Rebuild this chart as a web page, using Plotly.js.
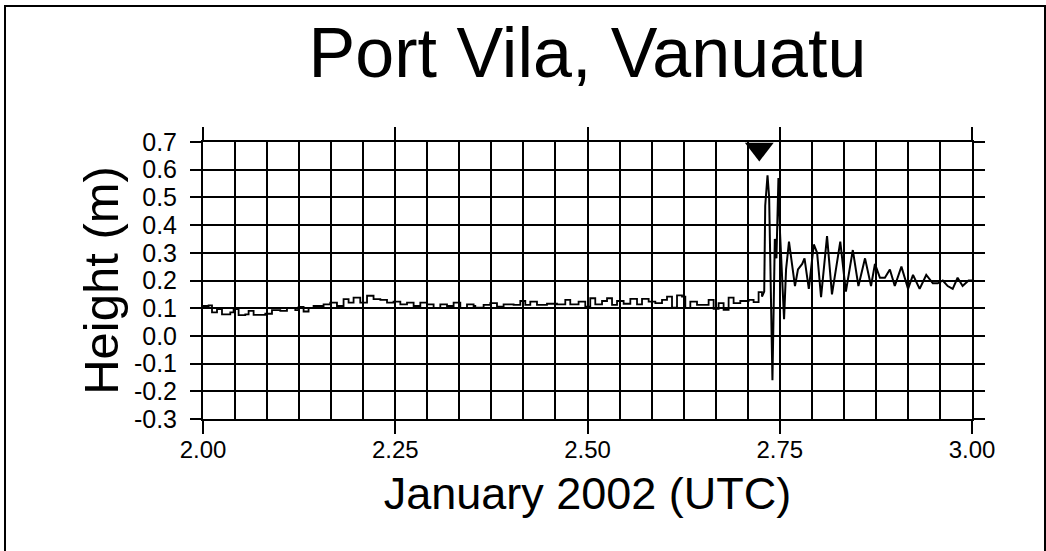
<!DOCTYPE html>
<html>
<head>
<meta charset="utf-8">
<script src="https://cdn.plot.ly/plotly-3.0.1.min.js"></script>
<style>
  html, body { margin: 0; padding: 0; background: #fff; overflow: hidden; }
  #frame { position: absolute; left: 4px; top: 5px; width: 1038px; height: 600px; border: 2px solid #000; pointer-events: none; }
  #chart { position: absolute; left: 0; top: 0; width: 1046px; height: 551px; }
</style>
</head>
<body>
<div id="chart"></div>
<div id="frame"></div>
<script>
// Time (days of January 2002, UTC) and sea level height (m), read from the record
const quietTimes = [2.0000,2.0073,2.0117,2.0182,2.0247,2.0355,2.0398,2.0463,2.0550,2.0593,2.0658,2.0745,2.0810,2.0897,2.1005,2.1092,2.1200,2.1243,2.1308,2.1373,2.1438,2.1568,2.1655,2.1742,2.1828,2.1893,2.1958,2.2045,2.2133,2.2218,2.2306,2.2393,2.2478,2.2566,2.2653,2.2739,2.2826,2.2913,2.2999,2.3086,2.3173,2.3259,2.3346,2.3433,2.3519,
  2.3541,2.3649,2.3736,2.3823,2.3909,2.4039,2.4126,2.4191,2.4256,2.4343,2.4473,2.4603,2.4711,2.4776,2.4884,2.4971,2.5036,2.5101,2.5189,2.5254,2.5319,2.5384,2.5470,2.5557,2.5644,2.5709,2.5795,2.5882,2.5969,2.6034,2.6099,2.6164,2.6229,2.6272,2.6337,2.6424,2.6510,2.6575,2.6640,2.6705,2.6770,2.6835,2.6900,2.6987,2.7095,2.7160,2.7225,2.7269];
const quietHeights = [0.108,0.110,0.085,0.097,0.078,0.085,0.097,0.075,0.078,0.090,0.076,0.076,0.080,0.093,0.090,0.100,0.093,0.105,0.088,0.100,0.108,0.114,0.120,0.108,0.133,0.120,0.138,0.120,0.145,0.133,0.130,0.120,0.124,0.114,0.120,0.108,0.120,0.114,0.100,0.114,0.108,0.120,0.100,0.114,0.108,
  0.102,0.112,0.118,0.106,0.114,0.112,0.126,0.112,0.124,0.112,0.116,0.114,0.130,0.114,0.124,0.106,0.136,0.114,0.126,0.136,0.112,0.126,0.116,0.134,0.114,0.134,0.124,0.118,0.130,0.142,0.102,0.146,0.142,0.100,0.124,0.112,0.112,0.130,0.098,0.118,0.094,0.138,0.118,0.126,0.130,0.122,0.158,0.142];
const waveTimes = [2.7298,2.7311,2.7341,2.7362,2.7375,2.7405,2.7436,2.7457,2.7483,2.7504,2.7556,2.7582,2.7620,2.7663,2.7698,2.7737,2.7792,2.7822,2.7878,2.7943,2.7986,2.8037,2.8115,2.8179,2.8287,2.8360,2.8450,2.8523,2.8609,2.8687,2.8738,2.8803,2.8867,2.8932,2.8996,2.9082,2.9168,2.9233,2.9319,2.9405,2.9491,2.9555,2.9620,2.9684,2.9749,2.9813,2.9878,2.9955,3.0000];
const waveHeights = [0.16,0.47,0.58,0.50,0.33,-0.16,0.35,0.28,0.57,0.37,0.06,0.24,0.34,0.26,0.18,0.24,0.26,0.28,0.17,0.33,0.30,0.14,0.36,0.15,0.34,0.16,0.31,0.18,0.28,0.18,0.26,0.21,0.21,0.24,0.18,0.25,0.17,0.22,0.17,0.22,0.19,0.19,0.20,0.18,0.17,0.21,0.18,0.20,0.20];

// Estimated tsunami arrival marker
const arrivalTime = [2.7234];
const arrivalMarkerHeight = [0.675];

// Tick labels
const xTickVals = [2.00, 2.25, 2.50, 2.75, 3.00];
const xTickText = ["2.00", "2.25", "2.50", "2.75", "3.00"];
const yTickVals = [-0.3,-0.2,-0.1,0.0,0.1,0.2,0.3,0.4,0.5,0.6,0.7];
const yTickText = ["-0.3","-0.2","-0.1","0.0","0.1","0.2","0.3","0.4","0.5","0.6","0.7"];

const FONT = "Liberation Sans, Arial, Helvetica, sans-serif";

const traces = [
  {
    x: quietTimes, y: quietHeights,
    type: "scatter", mode: "lines",
    line: { color: "#000", width: 1.8, shape: "hv" },
    hoverinfo: "skip", showlegend: false
  },
  {
    x: quietTimes.slice(-1).concat(waveTimes),
    y: quietHeights.slice(-1).concat(waveHeights),
    type: "scatter", mode: "lines",
    line: { color: "#000", width: 2 },
    hoverinfo: "skip", showlegend: false
  },
  {
    x: arrivalTime, y: arrivalMarkerHeight,
    type: "scatter", mode: "markers",
    marker: { symbol: "triangle-down", size: 25, color: "#000" },
    cliponaxis: false, showlegend: false, hoverinfo: "skip"
  }
];

const layout = {
  width: 1046, height: 551,
  margin: { l: 203, r: 74, t: 142, b: 132 },
  paper_bgcolor: "rgba(0,0,0,0)", plot_bgcolor: "#fff",
  font: { family: FONT, color: "#000" },
  showlegend: false,
  title: {
    text: "Port Vila, Vanuatu",
    font: { family: FONT, size: 70, color: "#000" },
    x: 0.5, xref: "paper", y: 1 - 52 / 551, yref: "container", yanchor: "middle"
  },
  xaxis: {
    range: [2, 3], fixedrange: true,
    tickmode: "array", tickvals: xTickVals, ticktext: xTickText,
    ticks: "outside", ticklen: 13, tickwidth: 2, tickcolor: "#000",
    showline: true, linecolor: "#000", linewidth: 2, mirror: "ticks",
    showgrid: true, gridcolor: "#000", gridwidth: 2,
    zeroline: false,
    minor: { tick0: 2, dtick: 1 / 24, showgrid: true, gridcolor: "#000", gridwidth: 2, ticks: "" },
    tickfont: { family: FONT, size: 24, color: "#000" },
    ticklabelstandoff: -5,
    title: { text: "January 2002 (UTC)", font: { family: FONT, size: 45, color: "#000" }, standoff: 16 }
  },
  yaxis: {
    range: [-0.3, 0.7], fixedrange: true,
    tickmode: "array", tickvals: yTickVals, ticktext: yTickText,
    ticks: "outside", ticklen: 11, tickwidth: 2, tickcolor: "#000",
    showline: true, linecolor: "#000", linewidth: 2, mirror: "ticks",
    showgrid: true, gridcolor: "#000", gridwidth: 2,
    zeroline: false,
    tickfont: { family: FONT, size: 25, color: "#000" },
    ticklabelstandoff: 8,
    title: { text: "Height (m)", font: { family: FONT, size: 49, color: "#000" }, standoff: 0 }
  }
};

Plotly.newPlot("chart", traces, layout, { staticPlot: true, displayModeBar: false });
</script>
</body>
</html>
